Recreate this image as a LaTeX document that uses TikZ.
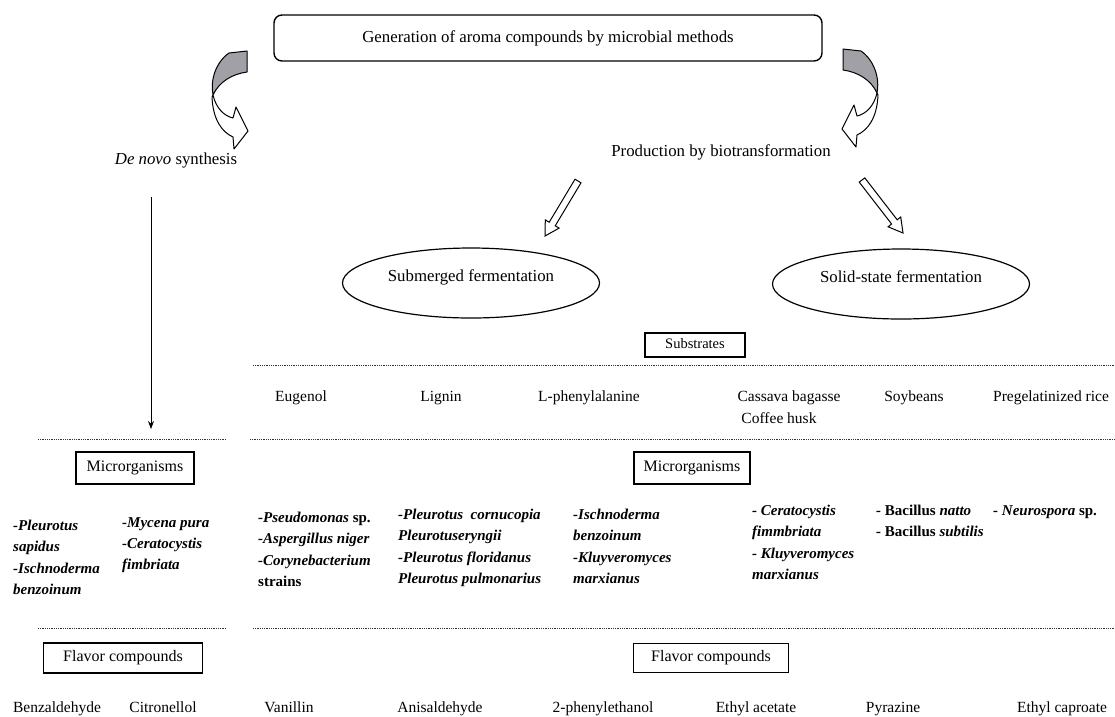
\documentclass[tikz,border=0pt]{standalone}
\usepackage{fontspec}
\setmainfont{Liberation Serif}
\usetikzlibrary{shapes.geometric,arrows.meta}
\definecolor{curlgray}{RGB}{160,160,166}
\begin{document}
\begin{tikzpicture}[x=1pt,y=-1pt,
  big/.style={inner sep=0pt, font=\fontsize{16.8}{20}\selectfont, text height=11.5pt, text depth=3.5pt},
  lbl/.style={inner sep=0pt, font=\fontsize{15.5}{19}\selectfont, text height=10.5pt, text depth=3.5pt},
  tagbox/.style={draw, line width=1.1pt, inner sep=0pt, font=\fontsize{16}{19}\selectfont, text height=11pt, text depth=3.5pt},
  microbes/.style={inner sep=0pt, anchor=north west, align=left, font=\fontsize{15}{21.3}\selectfont\bfseries\itshape},
  sep/.style={line width=0.9pt, dash pattern=on 0.9pt off 0.9pt, black!80},
  vessel/.style={draw, ellipse, line width=1.2pt, minimum width=257pt, minimum height=70pt, inner sep=0pt,
    font=\fontsize{16.8}{20}\selectfont, text height=11.5pt, text depth=15pt},
  hollow/.style={draw, line width=1pt, fill=white, line join=miter},
  curlline/.style={draw, line width=1pt, line join=round},
  curl/.pic={
    % shaded back face of the ribbon
    \fill[curlgray] (229,53) -- (247,51) -- (247,72) .. controls (232,74) and (219,82) .. (213,95)
      .. controls (210,80) and (216,62) .. (229,53) -- cycle;
    \draw[curlline] (229,53) -- (247,51) -- (247,72) .. controls (232,74) and (219,82) .. (213,95)
      .. controls (210,80) and (216,62) .. (229,53) -- cycle;
    % white front face ending in the arrow head
    \draw[curlline, fill=white] (213,95) .. controls (216,108) and (224,116) .. (233,118)
      -- (236,107) -- (248,131) -- (234,149) -- (233,137)
      .. controls (222,132) and (213,120) .. (212,97) -- cycle;
  }
]
\useasboundingbox (0,0) rectangle (1115,716);

% title
\node[draw, rounded corners=8pt, line width=1.4pt, minimum width=548pt, minimum height=46pt,
  inner sep=0pt, font=\fontsize{16.8}{20}\selectfont, text height=11.5pt, text depth=3.5pt]
  (title) at (548,38) {Generation of aroma compounds by microbial methods};

% curved arrows to the two routes
\pic at (0,0) {curl};
\pic[xscale=-1] at (1090,-2) {curl};

% the two routes
\node[big] (denovo) at (176,160) {\textit{De novo} synthesis};
\node[big] (biotrans) at (721,152) {Production by biotransformation};

% hollow arrows to the fermentation types
\draw[hollow] (575.0,179.2) -- (581.0,182.8) -- (555.2,225.8) -- (559.1,228.1) -- (545,236)
  -- (545.3,219.9) -- (549.2,222.2) -- cycle;
\draw[hollow] (864.8,177.9) -- (897.2,219.8) -- (900.7,217.0) -- (903,233) -- (888.1,226.8)
  -- (891.6,224.0) -- (859.2,182.1) -- cycle;

\node[vessel] (subm) at (471,283) {Submerged fermentation};
\node[vessel] (solid) at (901,284) {Solid-state fermentation};

% de novo branch arrow
\coordinate (dn-start) at (151,197);
\coordinate (dn-end) at (151,429);
\draw[line width=0.8pt, -{Stealth[length=8pt,width=6pt]}] (dn-start) -- (dn-end);

% substrates
\node[tagbox, minimum width=100pt, minimum height=24pt, font=\fontsize{14.5}{17}\selectfont,
  text height=10pt, text depth=3pt] (substr) at (695,345) {Substrates};
\draw[sep] (253,365) -- (1115,365);

\node[lbl] (s1) at (301,398) {Eugenol};
\node[lbl] (s2) at (441,398) {Lignin};
\node[lbl] (s3) at (589,398) {L-phenylalanine};
\node[lbl] (s4) at (789,398) {Cassava bagasse};
\node[lbl] (s4b) at (779,420) {Coffee husk};
\node[lbl] (s5) at (914,398) {Soybeans};
\node[lbl] (s6) at (1051,398) {Pregelatinized rice};

\draw[sep] (38,439) -- (226,439);
\draw[sep] (250,439) -- (1115,439);

% microorganisms
\node[tagbox, minimum width=118pt, minimum height=32pt] (micL) at (135,468) {Microrganisms};
\node[tagbox, minimum width=116pt, minimum height=32pt] (micR) at (692,468) {Microrganisms};

\node[microbes] (mL1) at (13,520) {-Pleurotus\\sapidus\\-Ischnoderma\\benzoinum};
\node[microbes] (mL2) at (122,517) {-Mycena pura\\-Ceratocystis\\fimbriata};

\node[microbes] (mR1) at (258,512) {-Pseudomonas \textup{sp.}\\-Aspergillus niger\\-Corynebacterium\\\textup{strains}};
\node[microbes] (mR2) at (398,509) {-Pleurotus\ \ cornucopia\\Pleurotuseryngii\\-Pleurotus floridanus\\Pleurotus pulmonarius};
\node[microbes] (mR3) at (573,509) {-Ischnoderma\\benzoinum\\-Kluyveromyces\\marxianus};
\node[microbes] (mR4) at (752,505) {- Ceratocystis\\fimmbriata\\- Kluyveromyces\\marxianus};
\node[microbes] (mR5) at (876,505) {- \textup{Bacillus} natto\\- \textup{Bacillus} subtilis};
\node[microbes] (mR6) at (993,505) {- Neurospora \textup{sp.}};

\draw[sep] (38,628) -- (226,628);
\draw[sep] (253,628) -- (1115,628);

% flavor compounds
\node[tagbox, minimum width=159pt, minimum height=30pt] (flavL) at (123,658) {Flavor compounds};
\node[tagbox, minimum width=155pt, minimum height=29pt] (flavR) at (711,658) {Flavor compounds};

\node[lbl] (f1) at (57,709) {Benzaldehyde};
\node[lbl] (f2) at (163,709) {Citronellol};
\node[lbl] (f3) at (289,709) {Vanillin};
\node[lbl] (f4) at (440,709) {Anisaldehyde};
\node[lbl] (f5) at (603,709) {2-phenylethanol};
\node[lbl] (f6) at (756,709) {Ethyl acetate};
\node[lbl] (f7) at (893,709) {Pyrazine};
\node[lbl] (f8) at (1062,709) {Ethyl caproate};
\end{tikzpicture}
\end{document}
